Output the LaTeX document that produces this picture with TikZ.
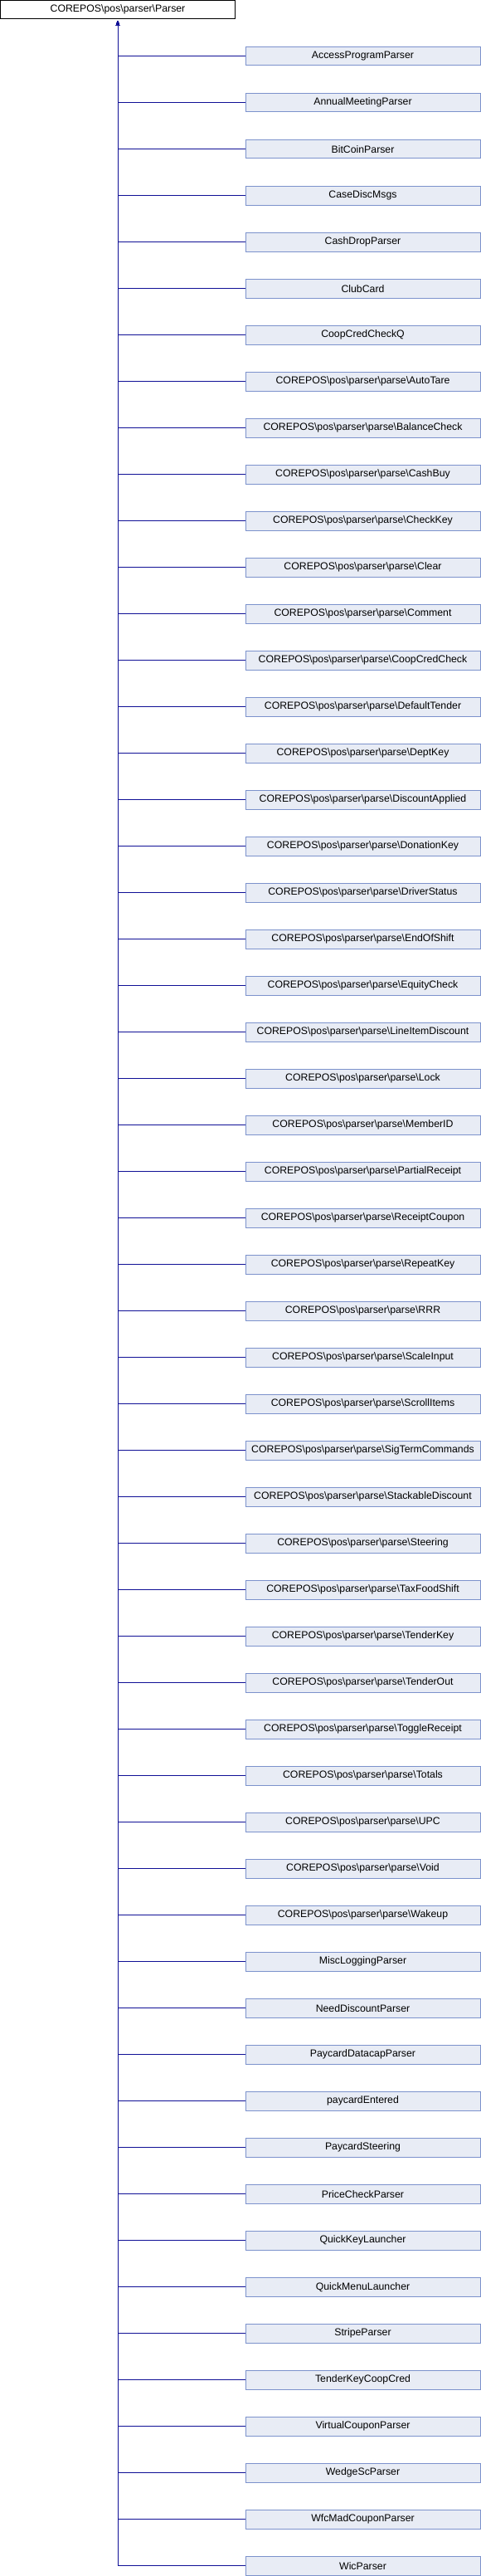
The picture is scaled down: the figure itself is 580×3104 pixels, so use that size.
\documentclass[tikz,border=0pt]{standalone}
\usepackage{fontspec}
\setmainfont{Liberation Sans}
\usetikzlibrary{arrows.meta}
\definecolor{edgeblue}{RGB}{16,16,150}
\definecolor{boxfill}{RGB}{232,236,245}
\definecolor{boxdraw}{RGB}{124,146,204}
\def\pp{COREPOS\textbackslash pos\textbackslash parser\textbackslash parse\textbackslash}
\tikzset{
  child/.style={draw=boxdraw, fill=boxfill, line width=1pt, minimum width=283pt, minimum height=22.5pt, inner sep=0pt, font=\fontsize{12.3}{14}\selectfont},
  parent/.style={draw=black, fill=white, line width=1pt, minimum width=283pt, minimum height=22.5pt, inner sep=0pt, font=\fontsize{12.3}{14}\selectfont},
  edge/.style={draw=edgeblue, line width=1pt, -{Triangle[width=4pt,length=5.5pt]}, shorten >=1.5pt}
}
\begin{document}
\begin{tikzpicture}[x=1pt,y=1pt]
\useasboundingbox (0,0) rectangle (580,-3104);
\node[parent] (top) at (142,-11.75) {COREPOS\textbackslash pos\textbackslash parser\textbackslash Parser};
\foreach \t [count=\k from 0] in {AccessProgramParser,AnnualMeetingParser,BitCoinParser,CaseDiscMsgs,CashDropParser,ClubCard,CoopCredCheckQ,
\pp AutoTare,\pp BalanceCheck,\pp CashBuy,\pp CheckKey,\pp Clear,\pp Comment,\pp CoopCredCheck,\pp DefaultTender,\pp DeptKey,\pp DiscountApplied,\pp DonationKey,\pp DriverStatus,\pp EndOfShift,\pp EquityCheck,\pp LineItemDiscount,\pp Lock,\pp MemberID,\pp PartialReceipt,\pp ReceiptCoupon,\pp RepeatKey,\pp RRR,\pp ScaleInput,\pp ScrollItems,\pp SigTermCommands,\pp StackableDiscount,\pp Steering,\pp TaxFoodShift,\pp TenderKey,\pp TenderOut,\pp ToggleReceipt,\pp Totals,\pp UPC,\pp Void,\pp Wakeup,
MiscLoggingParser,NeedDiscountParser,PaycardDatacapParser,paycardEntered,PaycardSteering,PriceCheckParser,QuickKeyLauncher,QuickMenuLauncher,StripeParser,TenderKeyCoopCred,VirtualCouponParser,WedgeScParser,WfcMadCouponParser,WicParser}
{
  \node[child] (c\k) at (437.5,{-67.75-56*\k}) {\t};
  \draw[edge] (c\k.west) -| (top.south);
}
\end{tikzpicture}
\end{document}
